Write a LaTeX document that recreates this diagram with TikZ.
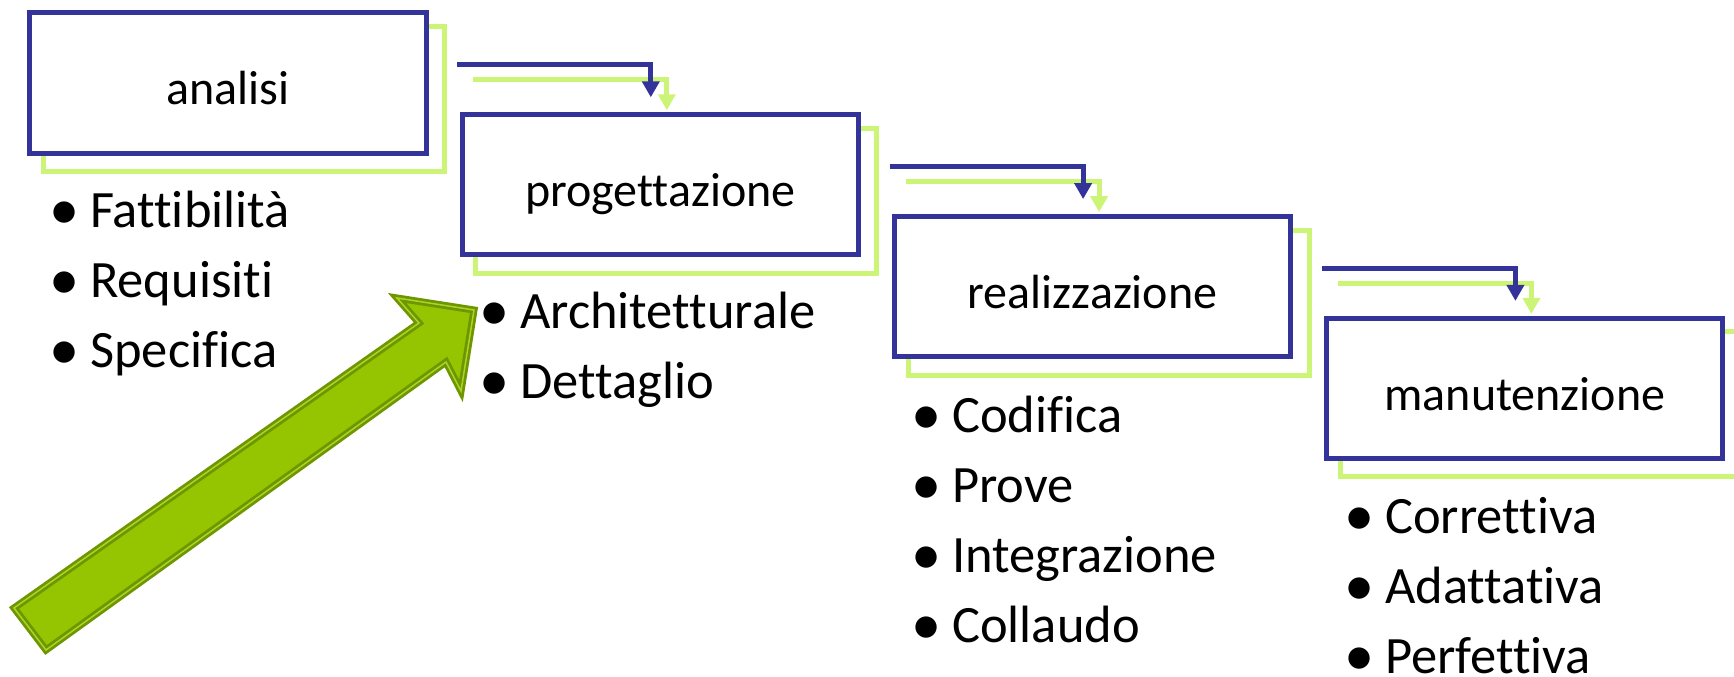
\documentclass[tikz,border=0pt]{standalone}
\usepackage{fontspec}
\setmainfont{Carlito}[Ligatures=NoCommon]
\usetikzlibrary{arrows.meta}
\definecolor{boxblue}{RGB}{51,51,153}
\definecolor{shadowgreen}{RGB}{204,245,120}
\definecolor{arrowfill}{RGB}{149,196,0}
\definecolor{arrowdark}{RGB}{110,150,0}
\definecolor{arrowlight}{RGB}{170,212,40}
\pgfdeclarelayer{background}
\pgfsetlayers{background,main}
\newcommand\bul[1]{\makebox[52bp][c]{\raisebox{-2bp}{\scalebox{1.15}{•}}}#1}
\begin{document}
\begin{tikzpicture}[x=1bp,y=-1bp,
  phase/.style={draw=boxblue, line width=5bp, fill=white,
    minimum width=396bp, minimum height=140bp, inner sep=0pt,
    font=\fontsize{48bp}{58bp}\selectfont, text height=44bp, text depth=0bp},
  shadowline/.style={draw=shadowgreen, line width=5bp},
  flowblue/.style={draw=boxblue, line width=5bp,
    -{Triangle[length=16bp,width=17bp]}, shorten >=15bp},
  flowgreen/.style={draw=shadowgreen, line width=5bp,
    -{Triangle[length=16bp,width=17bp]}, shorten >=2bp},
  item/.style={anchor=base west, inner sep=0pt,
    font=\fontsize{52.5bp}{62bp}\selectfont},
  bigarrow/.style={fill=arrowfill, draw=arrowdark, line width=2.8bp,
    double=arrowlight, double distance=1.5bp, line join=miter}
]
\useasboundingbox (0,0) rectangle (1734,677);

% phase boxes
\node[phase] (b1) at (228,83) {analisi};
\node[phase] (b2) at (660.3,184.8) {progettazione};
\node[phase] (b3) at (1092.6,286.6) {realizzazione};
\node[phase] (b4) at (1524.9,388.4) {manutenzione};

% green shadows
\begin{pgfonlayer}{background}
\foreach \b in {b1,b2,b3,b4}
  \draw[shadowline] ([shift={(16,16)}]\b.north west) rectangle ([shift={(16,16)}]\b.south east);
\end{pgfonlayer}

% flow arrows
\foreach \b in {b2,b3,b4}{
  \coordinate (\b-bs) at ([shift={(-2.5,-47.5)}]\b.north west);
  \coordinate (\b-gs) at ([shift={(13.5,-32.5)}]\b.north west);
  \draw[flowgreen] (\b-gs) -| ([xshift=207bp]\b.north west);
  \draw[flowblue] (\b-bs) -| ([xshift=191bp]\b.north west);
}

% bullet lists
\node[item] (l1a) at (38,227) {\bul{Fattibilità}};
\node[item] (l1b) at (38,297) {\bul{Requisiti}};
\node[item] (l1c) at (38,367) {\bul{Specifica}};

\node[item] (l2a) at (468,328) {\bul{Architetturale}};
\node[item] (l2b) at (468,398) {\bul{Dettaglio}};

\node[item] (l3a) at (900,432) {\bul{Codifica}};
\node[item] (l3b) at (900,502) {\bul{Prove}};
\node[item] (l3c) at (900,572) {\bul{Integrazione}};
\node[item] (l3d) at (900,642) {\bul{Collaudo}};

\node[item] (l4a) at (1333,533) {\bul{Correttiva}};
\node[item] (l4b) at (1333,603) {\bul{Adattativa}};
\node[item] (l4c) at (1333,673) {\bul{Perfettiva}};

% big green arrow
\draw[bigarrow] (14,608) -- (419,323) -- (397,298) -- (474,310)
  -- (461,391) -- (446,362) -- (46,650) -- cycle;
\end{tikzpicture}
\end{document}
